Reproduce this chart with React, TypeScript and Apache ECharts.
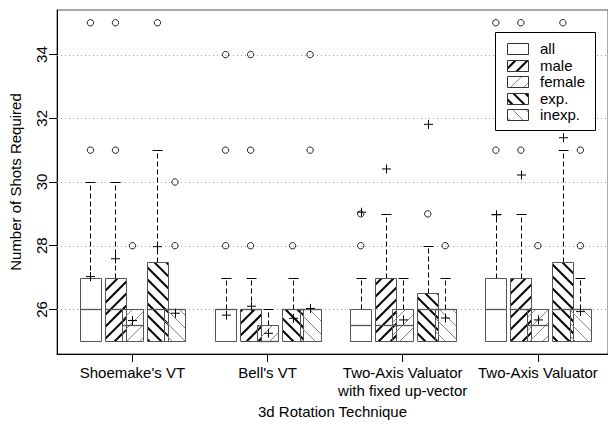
import React, { useEffect, useRef } from "react";
import * as echarts from "echarts";

const categories = [
  "Shoemake's VT",
  "Bell's VT",
  "Two-Axis Valuator\nwith fixed up-vector",
  "Two-Axis Valuator",
];
const subgroups = ["all", "male", "female", "exp.", "inexp."];

// [lower whisker, Q1, median, Q3, upper whisker] per technique
const allStats = [
  [25, 25, 26, 27, 30],
  [25, 25, 26, 26, 27],
  [25, 25, 25.5, 26, 27],
  [25, 25, 26, 27, 29],
];
const maleStats = [
  [25, 25, 26, 27, 30],
  [25, 25, 26, 26, 27],
  [25, 25, 25.5, 27, 29],
  [25, 25, 26, 27, 29],
];
const femaleStats = [
  [25, 25, 25.5, 26, 26],
  [25, 25, 25, 25.5, 26],
  [25, 25, 25.5, 26, 27],
  [25, 25, 25.5, 26, 26],
];
const expStats = [
  [25, 25, 26, 27.5, 31],
  [25, 25, 26, 26, 27],
  [25, 25, 26, 26.5, 28],
  [25, 25, 26, 27.5, 31],
];
const inexpStats = [
  [25, 25, 26, 26, 26],
  [25, 25, 26, 26, 26],
  [25, 25, 26, 26, 27],
  [25, 25, 26, 26, 27],
];

const allMeans = [27.03, 25.82, 29.05, 28.97];
const maleMeans = [27.59, 26.1, 30.41, 30.22];
const femaleMeans = [25.65, 25.25, 25.67, 25.67];
const expMeans = [27.97, 25.72, 31.81, 31.39];
const inexpMeans = [25.88, 26.03, 25.73, 25.93];

const allOutliers = [[31, 35], [28, 31, 34], [28, 29], [31, 35]];
const maleOutliers = [[31, 35], [28, 31, 34], [], [31, 35]];
const femaleOutliers = [[28], [], [], [28]];
const expOutliers = [[35], [28], [29], [35]];
const inexpOutliers = [[28, 30], [31, 34], [28], [28, 31]];

const yTicks = [26, 28, 30, 32, 34];
const xTicks = [1, 2, 3, 4];

const stats = [allStats, maleStats, femaleStats, expStats, inexpStats];
const means = [allMeans, maleMeans, femaleMeans, expMeans, inexpMeans];
const outliers = [allOutliers, maleOutliers, femaleOutliers, expOutliers, inexpOutliers];

const OFFSETS = [-42, -17, 0, 25, 42.5];
const BOX_W = 21;
const FONT = "Liberation Sans, Arial, Helvetica, sans-serif";

type Hatch = { dir: number; step: number; width: number; color: string } | null;
const HATCH: Hatch[] = [
  null,
  { dir: 1, step: 12, width: 2, color: "#000" },
  { dir: 1, step: 13, width: 1, color: "#8a8a8a" },
  { dir: -1, step: 12, width: 2, color: "#000" },
  { dir: -1, step: 13, width: 1, color: "#8a8a8a" },
];

function hatchSegments(x0: number, y0: number, w: number, h: number, hatch: Hatch) {
  const out: number[][] = [];
  if (!hatch) return out;
  const x1 = x0 + w;
  const y1 = y0 + h;
  const step = hatch.step;
  if (hatch.dir === 1) {
    const cMin = x0 + y0;
    const cMax = x1 + y1;
    for (let c = Math.ceil(cMin / step) * step; c <= cMax; c += step) {
      const xa = Math.max(x0, c - y1);
      const xb = Math.min(x1, c - y0);
      if (xb - xa > 0.5) out.push([xa, c - xa, xb, c - xb]);
    }
  } else {
    const cMin = x0 - y1;
    const cMax = x1 - y0;
    for (let c = Math.ceil(cMin / step) * step; c <= cMax; c += step) {
      const xa = Math.max(x0, c + y0);
      const xb = Math.min(x1, c + y1);
      if (xb - xa > 0.5) out.push([xa, xa - c, xb, xb - c]);
    }
  }
  return out;
}

function hatchElements(x0: number, y0: number, w: number, h: number, hatch: Hatch, z?: number) {
  return hatchSegments(x0, y0, w, h, hatch).map((s) => ({
    type: "line",
    z,
    shape: { x1: s[0], y1: s[1], x2: s[2], y2: s[3] },
    style: { stroke: hatch!.color, lineWidth: hatch!.width, lineCap: "butt" },
  }));
}

const px = (v: number) => Math.round(v) + 0.5;

function boxRenderer(k: number) {
  return (params: any, api: any) => {
    const g = api.value(0);
    const low = api.value(1);
    const q1 = api.value(2);
    const med = api.value(3);
    const q3 = api.value(4);
    const high = api.value(5);
    const mean = api.value(6);
    const cx0 = api.coord([g, q1])[0] + OFFSETS[k];
    const left = Math.round(cx0 - BOX_W / 2) + 0.5;
    const cx = px(cx0);
    const yLow = px(api.coord([g, low])[1]);
    const yQ1 = px(api.coord([g, q1])[1]);
    const yMed = px(api.coord([g, med])[1]);
    const yQ3 = px(api.coord([g, q3])[1]);
    const yHigh = px(api.coord([g, high])[1]);
    const yMean = api.coord([g, mean])[1];
    const children: any[] = [];
    const dash = { stroke: "#000", lineWidth: 1, lineDash: [5, 3] };
    if (high > q3) {
      children.push({ type: "line", shape: { x1: cx, y1: yQ3, x2: cx, y2: yHigh }, style: dash });
      children.push({ type: "line", shape: { x1: cx - 5, y1: yHigh, x2: cx + 5, y2: yHigh }, style: { stroke: "#000", lineWidth: 1 } });
    }
    if (low < q1) {
      children.push({ type: "line", shape: { x1: cx, y1: yQ1, x2: cx, y2: yLow }, style: dash });
      children.push({ type: "line", shape: { x1: cx - 5, y1: yLow, x2: cx + 5, y2: yLow }, style: { stroke: "#000", lineWidth: 1 } });
    }
    children.push(...hatchElements(left, yQ3, BOX_W, yQ1 - yQ3, HATCH[k]));
    children.push({
      type: "rect",
      shape: { x: left, y: yQ3, width: BOX_W, height: yQ1 - yQ3 },
      style: { fill: "none", stroke: "#555", lineWidth: 1 },
    });
    children.push({
      type: "line",
      shape: { x1: left, y1: yMed, x2: left + BOX_W, y2: yMed },
      style: { stroke: "#555", lineWidth: 1.3 },
    });
    children.push({ type: "line", shape: { x1: cx - 4.5, y1: yMean, x2: cx + 4.5, y2: yMean }, style: { stroke: "#000", lineWidth: 1 } });
    children.push({ type: "line", shape: { x1: cx, y1: yMean - 4.5, x2: cx, y2: yMean + 4.5 }, style: { stroke: "#000", lineWidth: 1 } });
    return { type: "group", children };
  };
}

function outlierRenderer(k: number) {
  return (params: any, api: any) => {
    const c = api.coord([api.value(0), api.value(1)]);
    return {
      type: "circle",
      shape: { cx: c[0] + OFFSETS[k], cy: c[1], r: 3.2 },
      style: { fill: "none", stroke: "#222", lineWidth: 1 },
    };
  };
}

export default function App() {
  const ref = useRef<HTMLDivElement>(null);
  useEffect(() => {
    if (!ref.current) return;
    const chart = echarts.init(ref.current, null, { renderer: "svg" });

    const series: any[] = [];
    series.push({
      type: "custom",
      silent: true,
      z: 1,
      data: yTicks.map((v) => [1, v]),
      encode: { x: 0, y: 1 },
      renderItem: (params: any, api: any) => {
        const y = px(api.coord([1, api.value(1)])[1]);
        const cs = params.coordSys;
        return {
          type: "line",
          shape: { x1: cs.x, y1: y, x2: cs.x + cs.width, y2: y },
          style: { stroke: "#a0a0a0", lineWidth: 1, lineDash: [1, 3] },
        };
      },
    });
    for (let k = 0; k < subgroups.length; k++) {
      series.push({
        type: "custom",
        name: subgroups[k],
        silent: true,
        z: 3,
        clip: false,
        data: stats[k].map((s, i) => [xTicks[i], ...s, means[k][i]]),
        encode: { x: 0, y: [1, 2, 3, 4, 5, 6] },
        renderItem: boxRenderer(k),
      });
      const od: number[][] = [];
      outliers[k].forEach((arr, i) => arr.forEach((v) => od.push([xTicks[i], v])));
      series.push({
        type: "custom",
        name: subgroups[k] + " outliers",
        silent: true,
        z: 3,
        clip: false,
        data: od,
        encode: { x: 0, y: 1 },
        renderItem: outlierRenderer(k),
      });
    }

    // legend drawn with graphic elements
    const legendX = 495, legendY = 32, legendW = 100, legendH = 98;
    const rowY0 = 48.5, rowStep = 16.6;
    const legendChildren: any[] = [
      {
        type: "rect",
        z: 100,
        shape: { x: legendX + 0.5, y: legendY + 0.5, width: legendW, height: legendH },
        style: { fill: "#fff", stroke: "#000", lineWidth: 1 },
      },
    ];
    subgroups.forEach((name, k) => {
      const cy = rowY0 + k * rowStep;
      const ix = 507.5, iy = Math.round(cy - 5.5) + 0.5, iw = 21, ih = 11;
      legendChildren.push(...hatchElements(ix, iy, iw, ih, HATCH[k], 101));
      legendChildren.push({
        type: "rect",
        z: 102,
        shape: { x: ix, y: iy, width: iw, height: ih },
        style: { fill: "none", stroke: "#333", lineWidth: 1 },
      });
      legendChildren.push({
        type: "text",
        z: 102,
        x: 540,
        y: cy,
        style: { text: name, fontSize: 15, fontFamily: FONT, fill: "#000", verticalAlign: "middle", align: "left" },
      });
    });

    chart.setOption({
      animation: false,
      backgroundColor: "#fff",
      grid: {
        left: 57,
        right: -1,
        top: 10,
        bottom: 70,
        show: true,
        borderColor: "#555",
        borderWidth: 1,
        backgroundColor: "transparent",
      },
      xAxis: {
        type: "value",
        min: 0.4417,
        max: 4.519,
        axisLine: { show: true, lineStyle: { color: "#000", width: 1 } },
        axisTick: { show: true, customValues: xTicks, length: 8, lineStyle: { color: "#000" } },
        axisLabel: {
          customValues: xTicks,
          formatter: (v: number) => categories[Math.round(v) - 1] ?? "",
          fontSize: 15,
          fontFamily: FONT,
          color: "#000",
          margin: 9,
          lineHeight: 18,
        },
        splitLine: { show: false },
        name: "3d Rotation Technique",
        nameLocation: "middle",
        nameGap: 44,
        nameTextStyle: { fontSize: 15, fontFamily: FONT, color: "#000" },
      },
      yAxis: {
        type: "value",
        min: 24.6,
        max: 35.4,
        axisLine: { show: true, lineStyle: { color: "#000", width: 1 } },
        axisTick: { show: true, customValues: yTicks, length: 8, lineStyle: { color: "#000" } },
        axisLabel: {
          customValues: yTicks,
          rotate: 90,
          fontSize: 15,
          fontFamily: FONT,
          color: "#000",
          margin: 8,
        },
        splitLine: { show: false },
        name: "Number of Shots Required",
        nameLocation: "middle",
        nameRotate: 90,
        nameGap: 34,
        nameTextStyle: { fontSize: 15, fontFamily: FONT, color: "#000" },
      },
      graphic: [{ type: "group", children: legendChildren }],
      series,
    });
    return () => chart.dispose();
  }, []);
  return (
    <div
      ref={ref}
      style={{ position: "fixed", left: 0, top: 0, width: 608, height: 424, background: "#fff" }}
    />
  );
}
